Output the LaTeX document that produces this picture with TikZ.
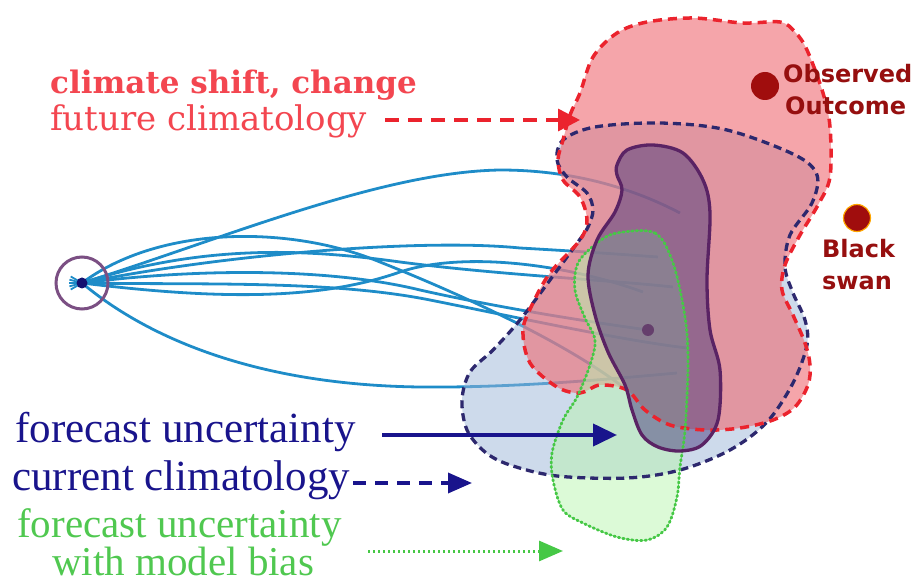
\documentclass[tikz,border=0pt]{standalone}
\usepackage{fontspec}
\setmainfont{Liberation Serif}
\newfontfamily\bookfont{DejaVu Serif}
\newfontfamily\gillfont{DejaVu Sans}
\usetikzlibrary{arrows.meta}
\definecolor{redline}{RGB}{235,35,45}
\definecolor{redfill}{RGB}{238,105,113}
\definecolor{bluefill}{RGB}{155,181,215}
\definecolor{blueline}{RGB}{45,40,110}
\definecolor{greenfill}{RGB}{185,245,175}
\definecolor{greenline}{RGB}{70,200,70}
\definecolor{purplefill}{RGB}{75,60,125}
\definecolor{purpleline}{RGB}{90,35,100}
\definecolor{traj}{RGB}{30,140,200}
\definecolor{navy}{RGB}{25,20,140}
\definecolor{darkred}{RGB}{150,15,15}
\definecolor{redtext}{RGB}{243,70,80}
\definecolor{greentext}{RGB}{80,200,80}
\tikzset{
  trajline/.style={traj, line width=2.8pt},
  redbound/.style={redline, line width=3.5pt, dash pattern=on 9pt off 6pt},
  bluebound/.style={blueline, line width=3.3pt, dash pattern=on 8pt off 5pt},
  greenbound/.style={greenline, line width=2.8pt, dash pattern=on 1.5pt off 3pt, line cap=round},
  purplebound/.style={purpleline, line width=3.3pt},
  txt/.style={inner sep=0pt, anchor=base west},
  redarrow/.style={redline, line width=3.5pt, dash pattern=on 14pt off 9pt, -{Triangle[length=22pt,width=22pt]}},
  navyarrow/.style={navy, line width=4pt, -{Triangle[length=24pt,width=22pt]}},
  navydash/.style={navy, line width=3.5pt, dash pattern=on 13pt off 9pt, -{Triangle[length=24pt,width=20pt]}},
  greenarrow/.style={greenline, line width=3pt, dash pattern=on 2pt off 3pt, -{Triangle[length=24pt,width=20pt]}},
  dotstyle/.style={circle, inner sep=0pt, minimum size=#1},
}
\begin{document}
\begin{tikzpicture}[x=1pt,y=-1pt]
\useasboundingbox (0,0) rectangle (919,588);
% source
\coordinate (S) at (82,283);
% trajectories
\draw[trajline] (S) .. controls (220,240) and (380,172) .. (500,170) .. controls (580,170) and (640,192) .. (680,213);
\draw[trajline] (S) .. controls (160,225) and (290,225) .. (380,262) .. controls (470,298) and (570,345) .. (627,390);
\draw[trajline] (S) .. controls (220,255) and (420,238) .. (520,248) .. controls (590,252) and (630,255) .. (658,257);
\draw[trajline] (S) .. controls (200,245) and (300,248) .. (400,262) .. controls (500,275) and (610,280) .. (673,287);
\draw[trajline] (S) .. controls (220,300) and (320,300) .. (400,272) .. controls (460,252) and (560,262) .. (643,292);
\draw[trajline] (S) .. controls (200,268) and (330,268) .. (420,290) .. controls (500,308) and (590,322) .. (648,330);
\draw[trajline] (S) .. controls (200,285) and (330,280) .. (430,300) .. controls (520,318) and (620,340) .. (687,348);
\draw[trajline] (S) .. controls (150,340) and (260,385) .. (420,387) .. controls (520,388) and (620,378) .. (677,373);
\foreach \a in {150,165,180,195,210}{\draw[traj, line width=1.8pt] (S) -- ++(\a:13);}
% regions fill
\fill[bluefill, opacity=0.5] plot[smooth cycle, tension=0.55] coordinates {(563,140) (557,160) (567,177) (587,193) (593,210) (588,227) (578,242) (550,280) (520,320) (493,350) (470,372) (462,400) (467,430) (485,452) (510,465) (557,476) (627,478) (680,470) (730,450) (767,422) (793,383) (807,345) (805,320) (793,293) (785,267) (790,235) (812,203) (817,175) (795,155) (727,130) (660,123) (595,127)};
\fill[redfill, opacity=0.6] plot[smooth cycle, tension=0.55] coordinates {(563,140) (570,115) (580,93) (593,57) (617,33) (647,22) (693,18) (743,23) (780,22) (795,32) (807,50) (823,93) (830,127) (830,177) (818,205) (800,235) (785,265) (782,290) (793,315) (805,343) (810,365) (808,385) (795,407) (773,420) (740,428) (705,430) (670,425) (645,410) (627,390) (600,385) (580,393) (557,387) (530,363) (523,330) (533,303) (550,273) (580,240) (587,220) (580,197) (563,180) (558,160)};
\fill[greenfill, opacity=0.5] plot[smooth cycle, tension=0.55] coordinates {(617,233) (655,233) (673,263) (685,317) (688,363) (685,430) (680,467) (677,497) (667,527) (647,540) (617,537) (583,523) (563,510) (553,480) (552,453) (563,420) (577,397) (590,365) (595,340) (585,318) (575,290) (578,263) (597,243)};
\fill[purplefill, opacity=0.5] plot[smooth cycle, tension=0.55] coordinates {(617,165) (627,150) (653,145) (683,153) (703,180) (710,213) (707,280) (710,330) (720,370) (718,420) (702,445) (680,451) (658,447) (642,435) (632,410) (625,385) (608,352) (595,315) (588,275) (597,240) (615,212) (622,190) (617,175)};
% outlines
\draw[bluebound] plot[smooth cycle, tension=0.55] coordinates {(563,140) (557,160) (567,177) (587,193) (593,210) (588,227) (578,242) (550,280) (520,320) (493,350) (470,372) (462,400) (467,430) (485,452) (510,465) (557,476) (627,478) (680,470) (730,450) (767,422) (793,383) (807,345) (805,320) (793,293) (785,267) (790,235) (812,203) (817,175) (795,155) (727,130) (660,123) (595,127)};
\draw[redbound] plot[smooth cycle, tension=0.55] coordinates {(563,140) (570,115) (580,93) (593,57) (617,33) (647,22) (693,18) (743,23) (780,22) (795,32) (807,50) (823,93) (830,127) (830,177) (818,205) (800,235) (785,265) (782,290) (793,315) (805,343) (810,365) (808,385) (795,407) (773,420) (740,428) (705,430) (670,425) (645,410) (627,390) (600,385) (580,393) (557,387) (530,363) (523,330) (533,303) (550,273) (580,240) (587,220) (580,197) (563,180) (558,160)};
\draw[greenbound] plot[smooth cycle, tension=0.55] coordinates {(617,233) (655,233) (673,263) (685,317) (688,363) (685,430) (680,467) (677,497) (667,527) (647,540) (617,537) (583,523) (563,510) (553,480) (552,453) (563,420) (577,397) (590,365) (595,340) (585,318) (575,290) (578,263) (597,243)};
\draw[purplebound] plot[smooth cycle, tension=0.55] coordinates {(617,165) (627,150) (653,145) (683,153) (703,180) (710,213) (707,280) (710,330) (720,370) (718,420) (702,445) (680,451) (658,447) (642,435) (632,410) (625,385) (608,352) (595,315) (588,275) (597,240) (615,212) (622,190) (617,175)};
% source circle and dots
\node[dotstyle=52pt, draw=purpleline!80, line width=3pt] (src) at (S) {};
\node[dotstyle=11pt, fill=navy!80!black] (srcdot) at (S) {};
\node[dotstyle=12pt, fill=purpleline!70!gray] (centre) at (648,330) {};
\node[dotstyle=28pt, fill=darkred!90!red] (obs) at (765,86) {};
\node[dotstyle=27pt, fill=darkred!90!red, draw=orange!70!yellow, line width=1.2pt] (swan) at (857,218) {};
% labels
\node[txt, text=redtext, font=\bookfont\bfseries\fontsize{31}{33}\selectfont] (t1) at (50,94) {climate shift, change};
\node[txt, text=redtext, font=\bookfont\fontsize{34}{36}\selectfont] (t2) at (50,131) {future climatology};
\node[txt, text=darkred, font=\gillfont\bfseries\fontsize{24}{26}\selectfont] (o1) at (783,83) {Observed};
\node[txt, text=darkred, font=\gillfont\bfseries\fontsize{24}{26}\selectfont] (o2) at (785,115) {Outcome};
\node[txt, text=darkred, font=\gillfont\bfseries\fontsize{24}{26}\selectfont] (b1) at (822,258) {Black};
\node[txt, text=darkred, font=\gillfont\bfseries\fontsize{24}{26}\selectfont] (b2) at (822,290) {swan};
\node[txt, text=navy, font=\fontsize{43}{45}\selectfont] (f1) at (15,442) {forecast uncertainty};
\node[txt, text=navy, font=\fontsize{43}{45}\selectfont] (c1) at (12,490) {current climatology};
\node[txt, text=greentext, font=\fontsize{41}{43}\selectfont] (g1) at (17,537) {forecast uncertainty};
\node[txt, text=greentext, font=\fontsize{41}{43}\selectfont] (g2) at (52,575) {with model bias};
% arrows
\coordinate (ra1) at (385,120); \coordinate (ra2) at (580,120);
\coordinate (na1) at (382,435); \coordinate (na2) at (617,435);
\coordinate (nd1) at (353,483); \coordinate (nd2) at (472,483);
\coordinate (ga1) at (368,551); \coordinate (ga2) at (563,551);
\draw[redarrow] (ra1) -- (ra2);
\draw[navyarrow] (na1) -- (na2);
\draw[navydash] (nd1) -- (nd2);
\draw[greenarrow] (ga1) -- (ga2);
\end{tikzpicture}
\end{document}
